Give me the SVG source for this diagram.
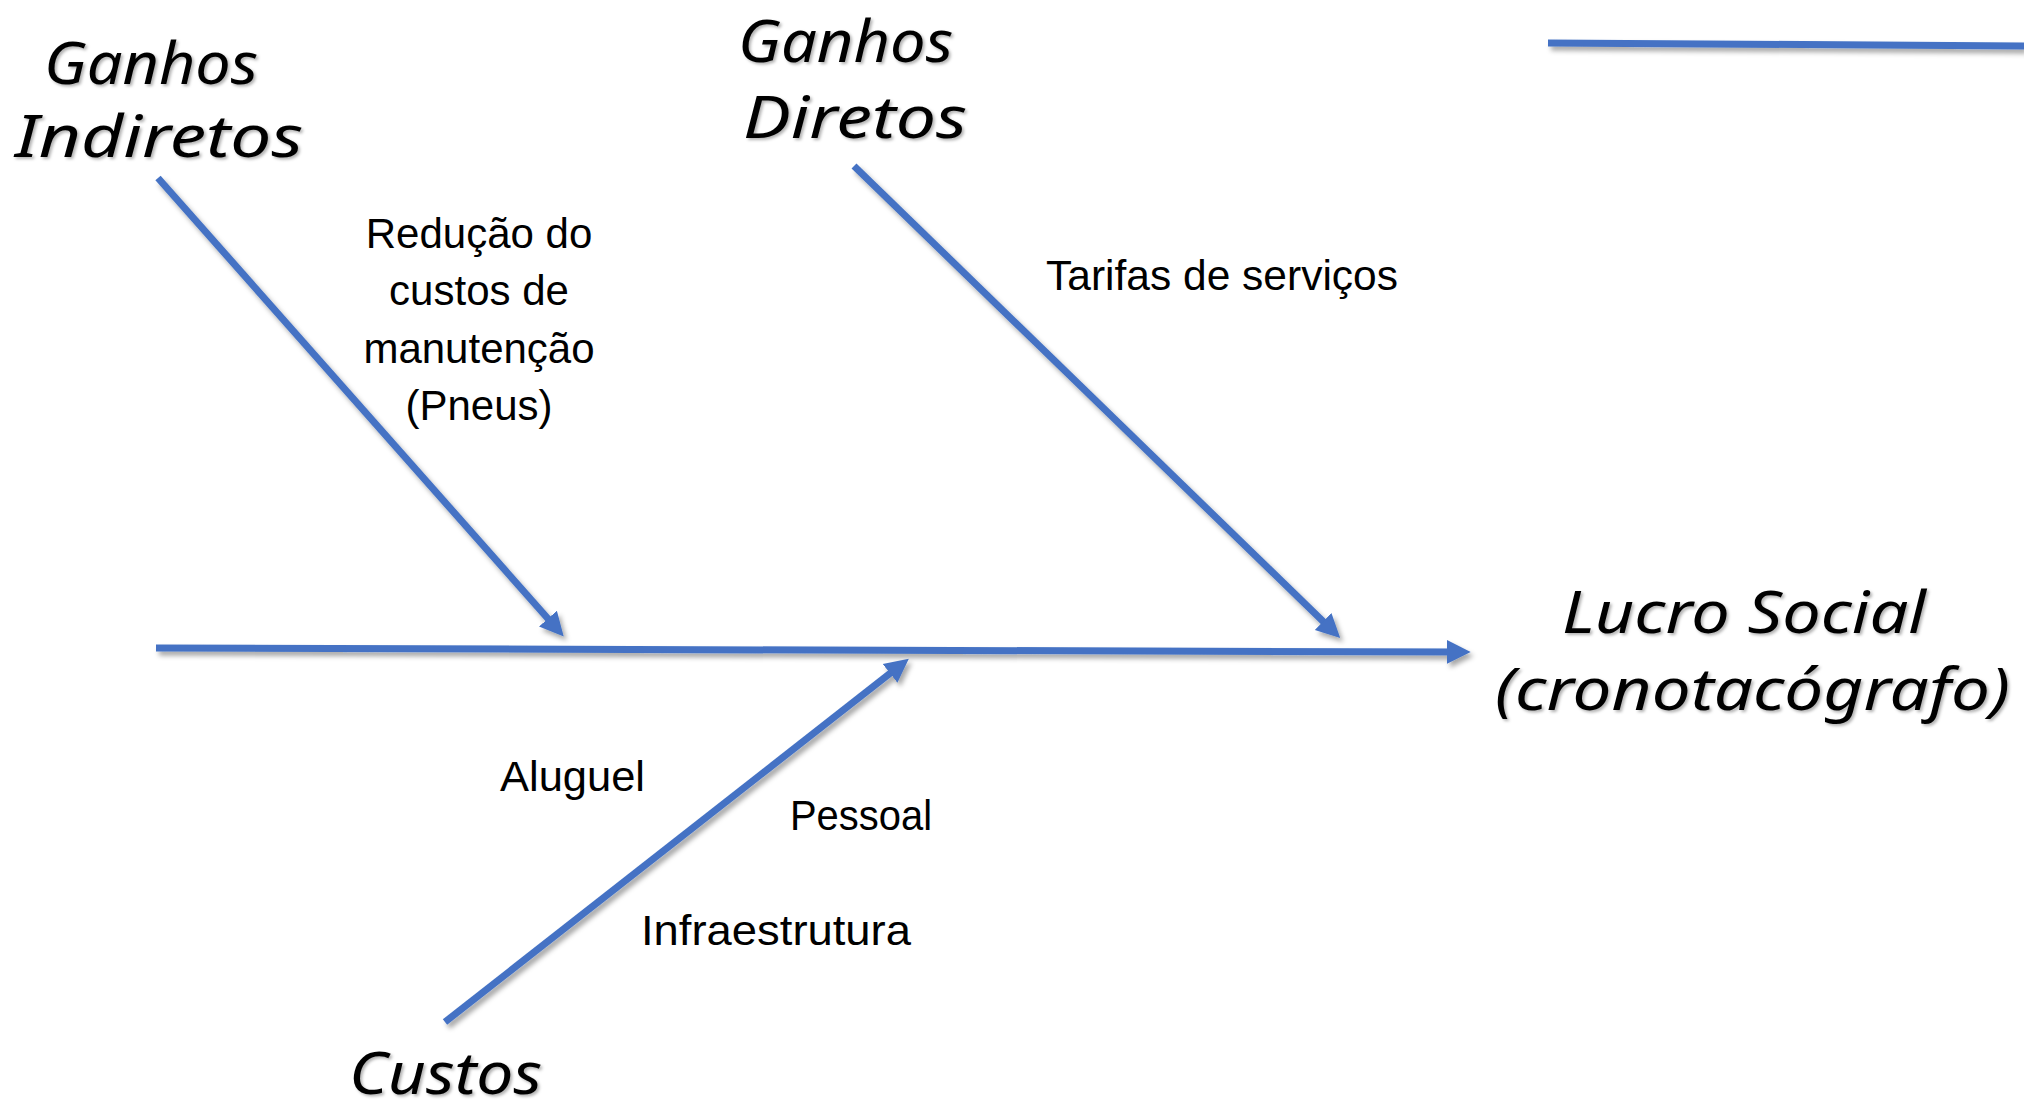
<svg xmlns="http://www.w3.org/2000/svg" width="2024" height="1107" viewBox="0 0 2024 1107">
<defs>
<style>
.ln{stroke:#4472C4;stroke-width:7;fill:none;filter:url(#sh)}
.big{font-family:"Comic Sans MS","Noto Sans",sans-serif;font-style:italic;font-size:58px;fill:#000;filter:url(#tsh)}
.lbl{font-family:"Liberation Sans",Arial,sans-serif;font-size:42px;fill:#000}
</style>
<filter id="sh" filterUnits="userSpaceOnUse" x="0" y="0" width="2024" height="1107">
<feDropShadow dx="3" dy="4" stdDeviation="2.5" flood-color="#000" flood-opacity="0.35"/>
</filter>
<filter id="tsh" filterUnits="userSpaceOnUse" x="0" y="0" width="2024" height="1107">
<feDropShadow dx="2" dy="2" stdDeviation="1.5" flood-color="#000" flood-opacity="0.3"/>
</filter>
<marker id="ah" markerUnits="userSpaceOnUse" markerWidth="26" markerHeight="26" refX="14" refY="11" orient="auto" viewBox="0 0 24 22">
<path d="M0,0 L22,11 L0,22 Z" fill="#4472C4"/>
</marker>
</defs>
<rect width="2024" height="1107" fill="#fff"/>
<g id="connectors">
<line class="ln" x1="156" y1="648" x2="1462" y2="652" marker-end="url(#ah)"/>
<line class="ln" x1="158" y1="178" x2="558" y2="630" marker-end="url(#ah)"/>
<line class="ln" x1="854" y1="166" x2="1334" y2="632" marker-end="url(#ah)"/>
<line class="ln" x1="445" y1="1022" x2="902" y2="664" marker-end="url(#ah)"/>
<line class="ln" x1="1548" y1="43" x2="2024" y2="46"/>
</g>
<g id="ganhos-indiretos">
<text class="big" x="151" y="84" text-anchor="middle" textLength="214" lengthAdjust="spacingAndGlyphs">Ganhos</text>
<text class="big" x="159" y="157" text-anchor="middle" textLength="288" lengthAdjust="spacingAndGlyphs">Indiretos</text>
</g>
<g id="ganhos-diretos">
<text class="big" x="738" y="62" textLength="215" lengthAdjust="spacingAndGlyphs">Ganhos</text>
<text class="big" x="743" y="138" textLength="224" lengthAdjust="spacingAndGlyphs">Diretos</text>
</g>
<g id="lucro-social">
<text class="big" x="1562" y="633" textLength="364" lengthAdjust="spacingAndGlyphs">Lucro Social</text>
<text class="big" x="1495" y="710" textLength="515" lengthAdjust="spacingAndGlyphs">(cronotacógrafo)</text>
</g>
<g id="custos">
<text class="big" x="349" y="1094" textLength="193" lengthAdjust="spacingAndGlyphs">Custos</text>
</g>
<g id="label-reducao">
<text class="lbl" x="479" y="248" text-anchor="middle">Redução do</text>
<text class="lbl" x="479" y="305" text-anchor="middle">custos de</text>
<text class="lbl" x="479" y="363" text-anchor="middle">manutenção</text>
<text class="lbl" x="479" y="420" text-anchor="middle">(Pneus)</text>
</g>
<g id="label-tarifas">
<text class="lbl" x="1046" y="290" textLength="352" lengthAdjust="spacingAndGlyphs">Tarifas de serviços</text>
</g>
<g id="label-aluguel">
<text class="lbl" x="500" y="791" textLength="145" lengthAdjust="spacingAndGlyphs">Aluguel</text>
</g>
<g id="label-pessoal">
<text class="lbl" x="790" y="830" textLength="142" lengthAdjust="spacingAndGlyphs">Pessoal</text>
</g>
<g id="label-infra">
<text class="lbl" x="641" y="945" textLength="270" lengthAdjust="spacingAndGlyphs">Infraestrutura</text>
</g>
</svg>
